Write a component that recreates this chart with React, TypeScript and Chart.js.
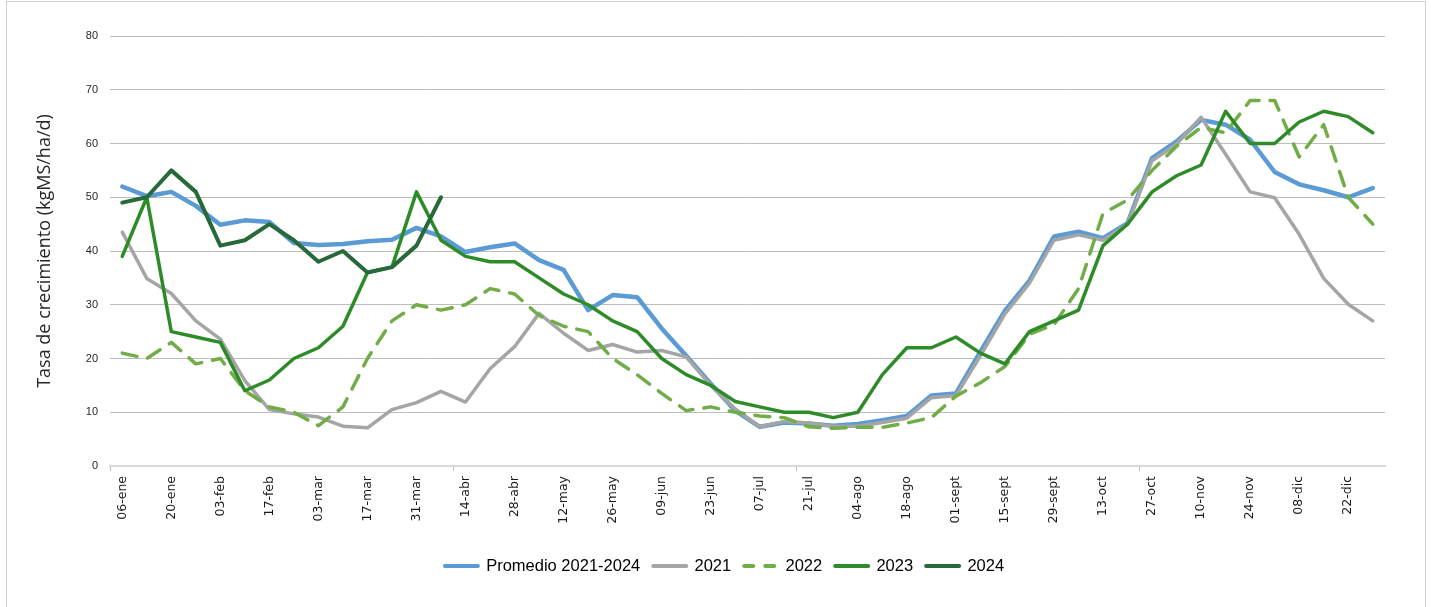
import React, { useEffect, useRef } from "react";
import { Chart, registerables } from "chart.js";

Chart.register(...registerables);

const weeks = [
  "06-ene", "13-ene", "20-ene", "27-ene", "03-feb", "10-feb", "17-feb", "24-feb",
  "03-mar", "10-mar", "17-mar", "24-mar", "31-mar", "07-abr", "14-abr", "21-abr",
  "28-abr", "05-may", "12-may", "19-may", "26-may", "02-jun", "09-jun", "16-jun",
  "23-jun", "30-jun", "07-jul", "14-jul", "21-jul", "28-jul", "04-ago", "11-ago",
  "18-ago", "25-ago", "01-sept", "08-sept", "15-sept", "22-sept", "29-sept", "06-oct",
  "13-oct", "20-oct", "27-oct", "03-nov", "10-nov", "17-nov", "24-nov", "01-dic",
  "08-dic", "15-dic", "22-dic", "29-dic",
];

const promedio = [
  52.0, 50.2, 51.0, 48.4, 44.9, 45.7, 45.4, 41.5, 41.1, 41.3, 41.8, 42.1, 44.3, 42.7,
  39.8, 40.7, 41.4, 38.3, 36.5, 29.0, 31.8, 31.4, 25.6, 20.5, 15.3, 10.3, 7.3, 8.1,
  7.9, 7.5, 7.8, 8.5, 9.3, 13.1, 13.5, 21.3, 28.9, 34.5, 42.7, 43.6, 42.4, 45.2,
  57.3, 60.4, 64.4, 63.5, 60.7, 54.7, 52.4, 51.3, 50.0, 51.7,
];

const serie2021 = [
  43.5, 34.9, 32.1, 27.0, 23.6, 15.9, 10.5, 9.7, 9.1, 7.4, 7.1, 10.5, 11.8, 13.9,
  11.9, 18.1, 22.2, 28.4, 24.7, 21.5, 22.6, 21.2, 21.5, 20.3, 15.0, 10.6, 7.3, 8.3,
  8.0, 7.4, 7.4, 8.1, 8.9, 12.7, 13.1, 20.5, 28.3, 34.0, 42.0, 43.0, 42.0, 45.0,
  56.8, 59.9, 64.9, 58.0, 51.0, 49.9, 43.1, 34.9, 30.1, 27.0,
];

const serie2022 = [
  21, 20, 23, 19, 20, 14, 11, 10, 7.5, 11, 20, 27, 30, 29,
  30, 33, 32, 28, 26, 25, 20, 17, 13.5, 10.3, 11, 10, 9.3, 9,
  7.3, 7, 7.2, 7.2, 8, 9, 13, 15.5, 18.5, 24.5, 26.3, 33, 47, 49.5,
  55, 59.5, 63, 62, 68, 68, 57.5, 63.5, 50, 45,
];

const serie2023 = [
  39, 50, 25, 24, 23, 14, 16, 20, 22, 26, 36, 37, 51, 42,
  39, 38, 38, 35, 32, 30, 27, 25, 20, 17, 15, 12, 11, 10,
  10, 9, 10, 17, 22, 22, 24, 21, 19, 25, 27, 29, 41, 45,
  51, 54, 56, 66, 60, 60, 64, 66, 65, 62,
];

const serie2024 = [49, 50, 55, 51, 41, 42, 45, 42, 38, 40, 36, 37, 41, 50];

const seriesNames = ["Promedio 2021-2024", "2021", "2022", "2023", "2024"];
const yMin = 0;
const yMax = 80;
const yStep = 10;
const axisTitle = "Tasa de crecimiento (kgMS/ha/d)";

const legendShift = {
  id: "legendShift",
  afterUpdate(chart: any) {
    const l = chart.legend;
    if (l) {
      l.left += 32;
      l.right += 32;
    }
  },
};

export default function App() {
  const ref = useRef<HTMLCanvasElement | null>(null);

  useEffect(() => {
    if (!ref.current) return;
    const lineBase = {
      pointRadius: 0,
      pointHoverRadius: 0,
      tension: 0,
      fill: false,
      borderJoinStyle: "round" as const,
      borderCapStyle: "round" as const,
    };
    const chart = new Chart(ref.current, {
      type: "line",
      data: {
        labels: weeks,
        datasets: [
          { ...lineBase, label: seriesNames[0], data: promedio, borderColor: "#5B9BD5", backgroundColor: "#5B9BD5", borderWidth: 4.5, order: 5 },
          { ...lineBase, label: seriesNames[1], data: serie2021, borderColor: "#A5A5A5", backgroundColor: "#A5A5A5", borderWidth: 3.5, order: 4 },
          { ...lineBase, label: seriesNames[2], data: serie2022, borderColor: "#70AD47", backgroundColor: "#70AD47", borderWidth: 3.5, borderDash: [15, 11], order: 3 },
          { ...lineBase, label: seriesNames[3], data: serie2023, borderColor: "#2D8B28", backgroundColor: "#2D8B28", borderWidth: 3.5, order: 2 },
          { ...lineBase, label: seriesNames[4], data: serie2024, borderColor: "#28693A", backgroundColor: "#28693A", borderWidth: 4, order: 1 },
        ],
      },
      options: {
        responsive: false,
        animation: false,
        devicePixelRatio: 1,
        layout: { padding: { top: 36, right: 46, bottom: 22.75, left: 0 } },
        plugins: {
          tooltip: { enabled: false },
          legend: {
            display: true,
            position: "bottom",
            labels: {
              usePointStyle: true,
              pointStyle: "line",
              pointStyleWidth: 33,
              padding: 13,
              color: "#000000",
              font: { family: "'Liberation Sans', Arial, sans-serif", size: 16.5 },
              sort: (a: any, b: any) => a.datasetIndex - b.datasetIndex,
              generateLabels: (c: any) => {
                const items = (Chart as any).defaults.plugins.legend.labels.generateLabels(c);
                return items.map((it: any) => {
                  const ds: any = c.data.datasets[it.datasetIndex];
                  return {
                    ...it,
                    strokeStyle: ds.borderColor,
                    fillStyle: ds.borderColor,
                    lineWidth: 4,
                    lineDash: ds.borderDash ? [9, 12] : [],
                    lineCap: "round",
                  };
                });
              },
            },
          },
        },
        scales: {
          x: {
            type: "category",
            offset: true,
            afterFit: (s: any) => { s.height = 78.75; },
            grid: {
              offset: true,
              drawOnChartArea: false,
              drawTicks: true,
              tickLength: 5,
              color: (ctx: any) => (ctx.index % 14 === 0 && ctx.index < weeks.length ? "#BFBFBF" : "rgba(0,0,0,0)"),
            },
            border: { display: true, color: "#D9D9D9", width: 2 },
            ticks: {
              autoSkip: false,
              minRotation: 90,
              maxRotation: 90,
              padding: 5,
              color: "#1a1a1a",
              font: { family: "'DejaVu Sans', Verdana, sans-serif", size: 12.5 },
              callback: (_v: any, i: number) => (i % 2 === 0 ? weeks[i] : ""),
            },
          },
          y: {
            min: yMin,
            max: yMax,
            afterFit: (s: any) => { s.width = 110; },
            grid: { color: "#BDBDBD", lineWidth: 1, drawTicks: false },
            border: { display: false },
            ticks: {
              stepSize: yStep,
              padding: 12,
              color: "#262626",
              font: { family: "'Liberation Sans', Arial, sans-serif", size: 11 },
            },
            title: {
              display: true,
              text: axisTitle,
              color: "#262626",
              font: { family: "'Open Sans', sans-serif", size: 18 },
              padding: { top: 34, bottom: 0 },
            },
          },
        },
      },
      plugins: [legendShift],
    });
    return () => chart.destroy();
  }, []);

  return (
    <div style={{ position: "fixed", left: 0, top: 0, width: 1431, height: 607, background: "#ffffff", overflow: "hidden" }}>
      <div
        style={{
          position: "absolute",
          left: 6,
          top: 1,
          width: 1420,
          height: 620,
          border: "1.5px solid #CFCFCF",
          boxSizing: "border-box",
        }}
      />
      <canvas ref={ref} width={1431} height={607} style={{ position: "absolute", left: 0, top: 0, width: 1431, height: 607 }} />
    </div>
  );
}
